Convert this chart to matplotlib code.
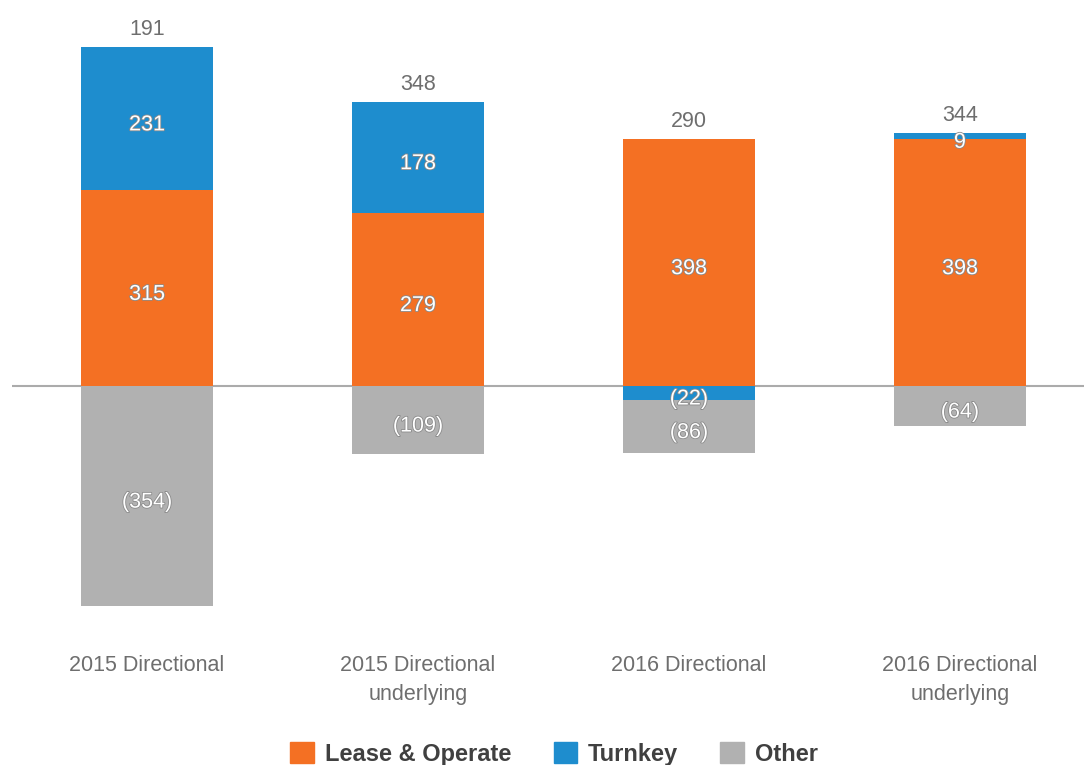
import matplotlib.pyplot as plt
import matplotlib.patheffects as pe
from matplotlib.patches import Patch

plt.rcParams['font.family'] = ['Liberation Sans', 'DejaVu Sans']

categories = ['2015 Directional', '2015 Directional\nunderlying',
              '2016 Directional', '2016 Directional\nunderlying']
lease = [315, 279, 398, 398]
turnkey = [231, 178, -22, 9]
other = [-354, -109, -86, -64]
totals = ['191', '348', '290', '344']

c_lease = '#F47023'
c_turn = '#1E8DCE'
c_other = '#B1B1B1'
c_text = '#6E6E6E'

fig = plt.figure(figsize=(10.84, 7.65), dpi=100)
ax = fig.add_axes([12 / 1084, 0, 1072 / 1084, 1])
ax.axis('off')

px = 0.621  # pixels per unit
ax.set_ylim(-(765 - 386) / px, 386 / px)
ax.set_xlim(-0.498, 3.458)

x = range(len(categories))
w = 0.49
label_fx = [pe.withStroke(linewidth=1.2, foreground='#8a8a8a')]

for i in x:
    pos_base = 0
    neg_base = 0
    segs = [(lease[i], c_lease), (turnkey[i], c_turn), (other[i], c_other)]
    for val, col in segs:
        if val >= 0:
            bottom = pos_base
            pos_base += val
        else:
            bottom = neg_base
            neg_base += val
        ax.bar(i, val, w, bottom=bottom, color=col, linewidth=0)
        txt = str(val) if val >= 0 else '(%d)' % -val
        ax.text(i, bottom + val / 2 - 10, txt, ha='center', va='center',
                fontsize=15.5, color='white', path_effects=label_fx)
    ax.text(i, pos_base + 11, totals[i], ha='center', va='bottom',
            fontsize=15.5, color=c_text)
    ax.text(i, -(655 - 386) / px, categories[i], ha='center', va='top',
            fontsize=15.5, color=c_text, linespacing=1.5)

ax.axhline(0, color='#ABABAB', linewidth=1.5, zorder=0.5)

handles = [Patch(color=c_lease, label='Lease & Operate'),
           Patch(color=c_turn, label='Turnkey'),
           Patch(color=c_other, label='Other')]
leg = fig.legend(handles=handles, loc='center', ncol=3, frameon=False,
                 bbox_to_anchor=(554 / 1084, 1 - 754 / 765),
                 prop={'size': 17, 'weight': 'bold'},
                 handlelength=1.0, handleheight=1.0,
                 handletextpad=0.45, columnspacing=1.8)
for t in leg.get_texts():
    t.set_color('#404040')

fig.savefig('out.png', dpi=100)
